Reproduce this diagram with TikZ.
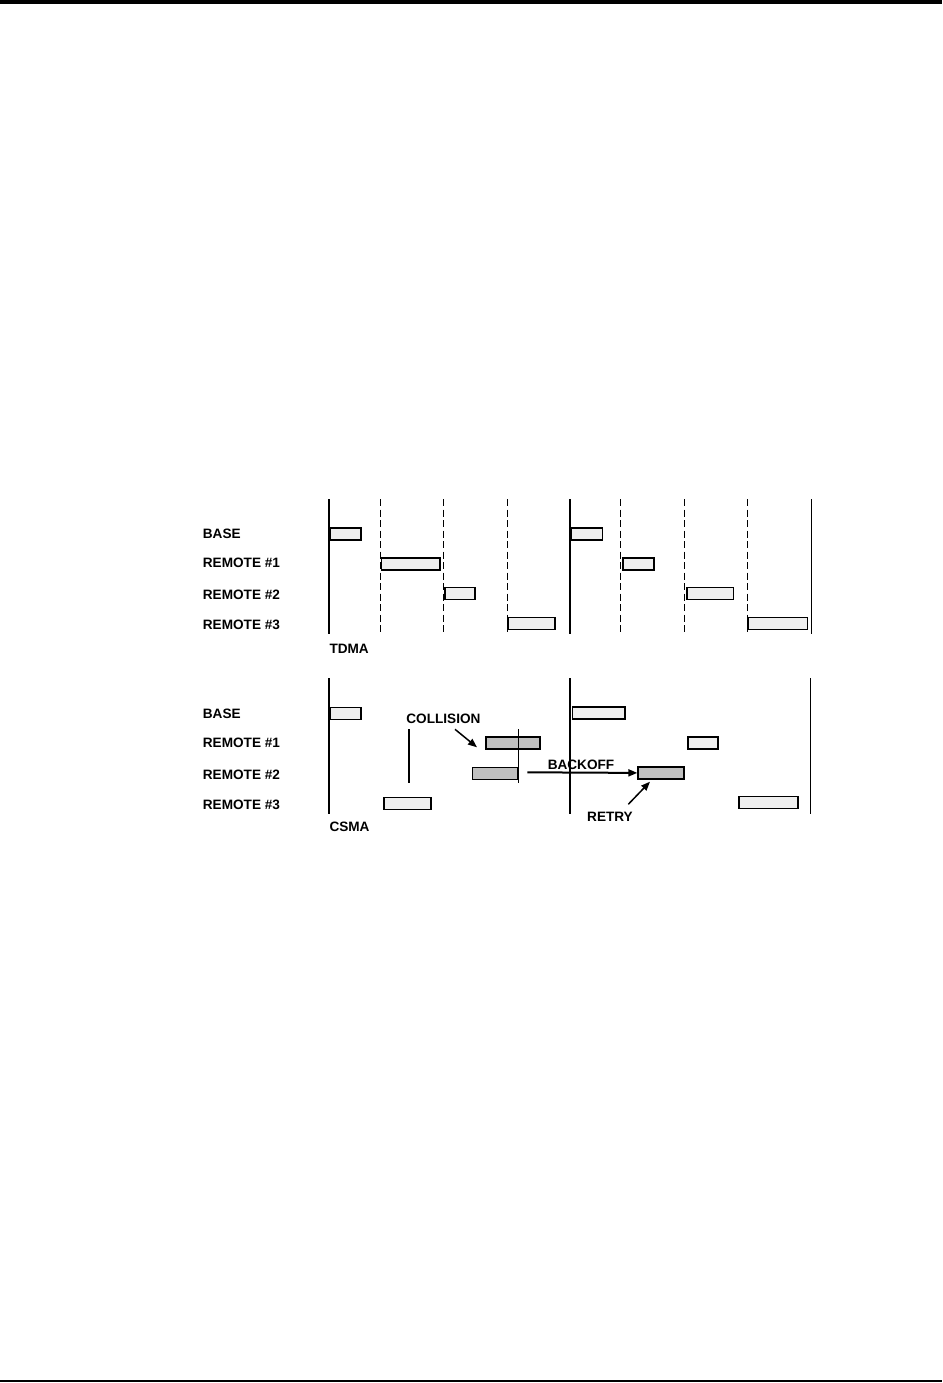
\documentclass[tikz,border=0pt]{standalone}
\usepackage{fontspec}
\setmainfont{Liberation Sans}
\usetikzlibrary{arrows.meta, positioning}
\definecolor{slotfill}{HTML}{EFEFEF}
\definecolor{clashfill}{HTML}{C0C0C0}

\begin{document}
\begin{tikzpicture}[
    x=1pt, y=-1pt,
    font=\fontsize{13.6}{16}\selectfont\bfseries,
    rowname/.style={anchor=west, inner sep=0pt},
    note/.style={inner sep=0pt},
    bar/.style={line width=2pt},
    rim/.style={line width=1.3pt},
    guard/.style={line width=1pt, dash pattern=on 7pt off 3.5pt},
    slot/.style={draw, line width=1.2pt, fill=slotfill, anchor=north west, inner sep=0pt, minimum height=12pt},
    clash/.style={slot, fill=clashfill},
    arrow/.style={-{Triangle[length=9pt, width=7pt]}, line width=1.5pt}
]
    \useasboundingbox (0,0) rectangle (942,1383);

    % --- Seitenlinien ---
    \fill (0,0) rectangle (942,4);
    \draw [line width=2pt] (0,1381.3) -- (942,1381.3);

    % --- TDMA: Zeitachsen ---
    \draw [bar] (328.7,499) -- (328.7,634);
    \draw [bar] (569.7,499) -- (569.7,634);
    \draw [rim] (811.3,499) -- (811.3,634);
    \draw [guard] (380.3,499) -- (380.3,634);
    \draw [guard] (443.7,499) -- (443.7,634);
    \draw [guard] (507.3,499) -- (507.3,634);
    \draw [guard] (620.3,499) -- (620.3,634);
    \draw [guard] (684.3,499) -- (684.3,634);
    \draw [guard] (747.3,499) -- (747.3,634);

    % --- TDMA: Zeilen ---
    \node [rowname] (tbase) at (202.7,534) {BASE};
    \node [rowname] (trem1) at (202.7,563.3) {REMOTE \#1};
    \node [rowname] (trem2) at (202.7,595.3) {REMOTE \#2};
    \node [rowname] (trem3) at (202.7,625.3) {REMOTE \#3};
    \node [rowname] (tdma) at (329.3,649.3) {TDMA};

    % --- TDMA: Zeitschlitze ---
    \node [slot, minimum width=30.3pt] (tslot1) at (330,527.3) {};
    \node [slot, minimum width=58.3pt] (tslot2) at (381,557.3) {};
    \node [slot, minimum width=30pt] (tslot3) at (444.3,586.7) {};
    \node [slot, minimum width=47pt] (tslot4) at (507.3,616.7) {};
    \node [slot, minimum width=30.7pt] (tslot5) at (571,527.3) {};
    \node [slot, minimum width=30.4pt, line width=1.8pt] (tslot6) at (622.3,557.3) {};
    \node [slot, minimum width=46.4pt] (tslot7) at (686.3,586.7) {};
    \node [slot, minimum width=59.4pt] (tslot8) at (747.3,617) {};

    % --- CSMA: Zeitachsen ---
    \draw [bar] (328.7,678.3) -- (328.7,814);
    \draw [bar] (569.7,678.3) -- (569.7,814);
    \draw [rim] (810.7,678.3) -- (810.7,814);
    \draw [bar] (409,729.3) -- (409,782.7);

    % --- CSMA: Zeilen ---
    \node [rowname] (cbase) at (202.7,714) {BASE};
    \node [rowname] (crem1) at (202.7,743.3) {REMOTE \#1};
    \node [rowname] (crem2) at (202.7,775.3) {REMOTE \#2};
    \node [rowname] (crem3) at (202.7,804.7) {REMOTE \#3};
    \node [rowname] (csma) at (329.3,826.7) {CSMA};

    % --- CSMA: Pakete ---
    \node [slot, minimum width=30.3pt] (cslot1) at (330,706.5) {};
    \node [clash, minimum width=54pt] (hit1) at (485.3,736.3) {};
    \node [clash, minimum width=45.3pt] (hit2) at (471.7,766.5) {};
    \node [slot, minimum width=47pt] (cslot4) at (383.3,796.5) {};
    \node [slot, minimum width=52.6pt] (cslot5) at (571.7,706.3) {};
    \node [slot, minimum width=30pt] (cslot6) at (687.3,736.3) {};
    \node [clash, minimum width=46pt] (retrybox) at (637.3,766.3) {};
    \node [slot, minimum width=59pt] (cslot8) at (738.3,796) {};
    \draw [line width=1pt] (518,729.3) -- (518,782.7);

    % --- Beschriftungen ---
    \node [note] (coll) at (443.4,719.3) {COLLISION};
    \node [note] (backoff) at (581,764.5) {BACKOFF};
    \node [note] (retry) at (610,816.7) {RETRY};

    % --- Pfeile ---
    \coordinate (colltail) at (455,729.3);
    \coordinate (collhead) at (477,747.3);
    \coordinate (backtail) at (527.3,772.3);
    \coordinate (retrytail) at (628.3,804.3);
    \coordinate (retryhead) at (650,781.7);
    \draw [arrow] (colltail) -- (collhead);
    \draw [arrow, line width=2pt] (backtail) -- (retrybox.west);
    \draw [arrow] (retrytail) -- (retryhead);

\end{tikzpicture}
\end{document}
